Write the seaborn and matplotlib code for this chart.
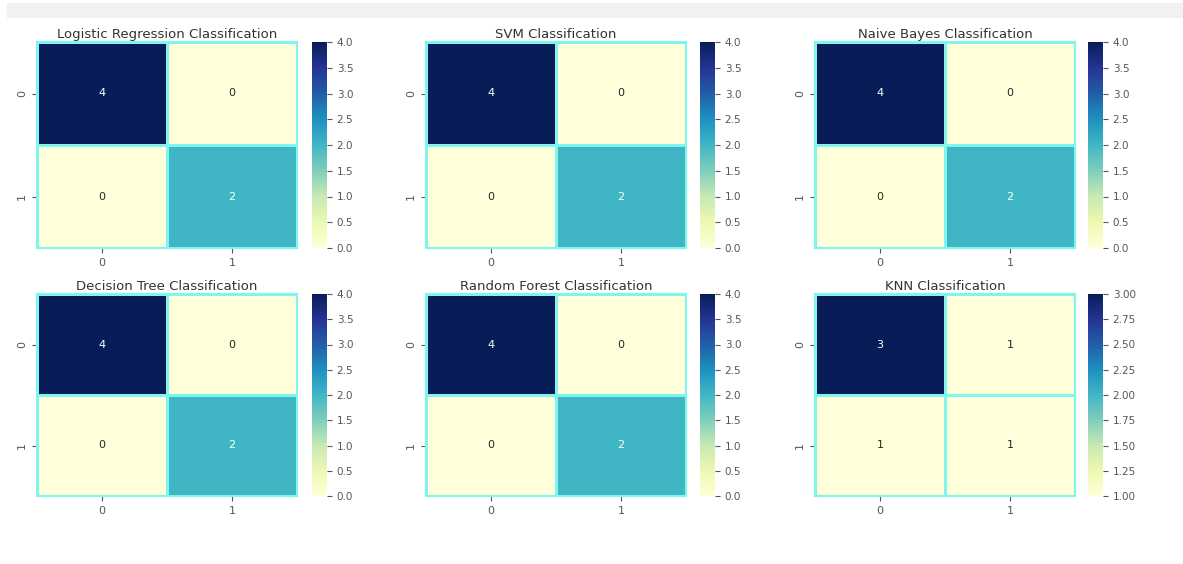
import numpy as np
import seaborn as sns
from matplotlib import pyplot as plt

# confusion matrices
titles = ['Logistic Regression Classification', 'SVM Classification', 'Naive Bayes Classification',
          'Decision Tree Classification', 'Random Forest Classification', 'KNN Classification']
cm_logreg = [[4, 0], [0, 2]]
cm_svm = [[4, 0], [0, 2]]
cm_nb = [[4, 0], [0, 2]]
cm_tree = [[4, 0], [0, 2]]
cm_forest = [[4, 0], [0, 2]]
cm_knn = [[3, 1], [1, 1]]
matrices = [cm_logreg, cm_svm, cm_nb, cm_tree, cm_forest, cm_knn]

W, H = 1183, 564
fig = plt.figure(figsize=(W / 100, H / 100), dpi=100)

# top gray strip of the screenshot
fig.patches.append(plt.Rectangle((7 / W, 1 - 17 / H), 1, 14 / H, transform=fig.transFigure,
                                 color='#f1f1f1', zorder=0))

col_x = [37, 426, 815]
cb_x = [312, 700, 1088]
row_y = [(42, 248), (294, 496)]

for i, (cm, title) in enumerate(zip(matrices, titles)):
    r, c = divmod(i, 3)
    top, bot = row_y[r]
    ax = fig.add_axes([col_x[c] / W, 1 - bot / H, 260 / W, (bot - top) / H])
    cax = fig.add_axes([cb_x[c] / W, 1 - bot / H, 15 / W, (bot - top) / H])
    sns.heatmap(np.array(cm), annot=True, fmt='d', cmap='YlGnBu', linewidths=1,
                linecolor='#7ff5f0', ax=ax, cbar_ax=cax,
                annot_kws={'fontsize': 8})
    ax.set_title(title, fontsize=9.5, color='#333333', pad=3)
    ax.tick_params(labelsize=8, colors='#555555')
    cax.tick_params(labelsize=7.5, colors='#555555')
    for s in ax.spines.values():
        s.set_visible(True)
        s.set_color('#7ff5f0')
        s.set_linewidth(1.5)

plt.savefig('out.png', dpi=100)
